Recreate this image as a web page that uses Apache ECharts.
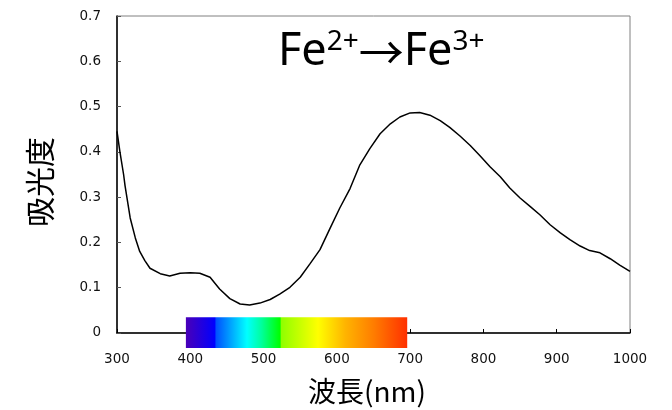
<!DOCTYPE html>
<html>
<head>
<meta charset="utf-8">
<script src="https://cdn.jsdelivr.net/npm/echarts@6/dist/echarts.min.js"></script>
<style>
html,body{margin:0;padding:0;background:#fff;}
#chart{width:672px;height:410px;}
</style>
</head>
<body>
<div id="chart"></div>
<script>
// Wavelength (nm) and absorbance
var wavelengths = [300, 304, 309, 311, 318, 325, 331, 338, 345, 359, 372, 386, 400, 413, 427, 440, 454, 468, 481, 495, 509, 522, 536, 550, 563, 577, 591, 604, 618, 631, 645, 659, 673, 686, 700, 713, 727, 741, 754, 768, 782, 795, 809, 823, 836, 850, 864, 877, 891, 905, 918, 932, 945, 959, 973, 986, 1000];
var absorbance = [0.445, 0.40, 0.35, 0.325, 0.254, 0.21, 0.18, 0.16, 0.143, 0.131, 0.126, 0.132, 0.133, 0.132, 0.123, 0.097, 0.076, 0.064, 0.062, 0.066, 0.074, 0.086, 0.101, 0.123, 0.152, 0.184, 0.232, 0.276, 0.319, 0.37, 0.407, 0.44, 0.462, 0.477, 0.486, 0.487, 0.481, 0.469, 0.454, 0.435, 0.414, 0.392, 0.367, 0.345, 0.32, 0.298, 0.279, 0.261, 0.239, 0.221, 0.206, 0.192, 0.182, 0.177, 0.164, 0.15, 0.136];
// Visible spectrum band: wavelength span and absorbance span it covers
var spectrumWavelengths = [394, 696];
var spectrumAbsorbance = [-0.033, 0.035];
var yTicks = [0, 0.1, 0.2, 0.3, 0.4, 0.5, 0.6, 0.7];
var xTicks = [300, 400, 500, 600, 700, 800, 900, 1000];

var lineData = wavelengths.map(function (w, i) { return [w, absorbance[i]]; });

var chart = echarts.init(document.getElementById('chart'));
chart.setOption({
  animation: false,
  backgroundColor: '#fff',
  title: {
    text: '{a|Fe}{b|2+}{c|→}{a|Fe}{b|3+}',
    left: 273,
    top: 20,
    textStyle: {
      fontWeight: 'normal',
      rich: {
        a: { fontFamily: 'Noto Sans', fontSize: 45, fontWeight: 'normal', color: '#000', lineHeight: 50, verticalAlign: 'bottom' },
        b: { fontFamily: 'Noto Sans', fontSize: 28, fontWeight: 'normal', color: '#000', lineHeight: 50, verticalAlign: 'top', padding: [3, 0, 0, 0] },
        c: { fontFamily: 'Noto Sans CJK JP', fontSize: 45, fontWeight: 'normal', color: '#000', lineHeight: 50, verticalAlign: 'bottom' }
      }
    }
  },
  grid: {
    left: 117, right: 42, top: 16, bottom: 74,
    show: true, borderColor: '#808080', borderWidth: 1, backgroundColor: 'transparent'
  },
  xAxis: {
    type: 'value',
    min: xTicks[0], max: xTicks[xTicks.length - 1], interval: 100,
    name: '波長(nm)',
    nameLocation: 'middle',
    nameGap: 44,
    nameTextStyle: { fontFamily: 'Noto Sans CJK JP', fontSize: 28, color: '#000', padding: [0, 13, 0, 0] },
    axisLine: { show: true, onZero: false, lineStyle: { color: '#000', width: 1.5 } },
    axisTick: { show: true, inside: true, length: 4, lineStyle: { color: '#000' } },
    axisLabel: {
      margin: 20, fontFamily: 'DejaVu Sans', fontSize: 13.5, color: '#111',
      formatter: function (v) { return String(v); }
    },
    splitLine: { show: false }
  },
  yAxis: {
    type: 'value',
    min: yTicks[0], max: yTicks[yTicks.length - 1], interval: 0.1,
    name: '吸光度',
    nameLocation: 'middle',
    nameRotate: 90,
    nameGap: 62,
    nameTextStyle: { fontFamily: 'Noto Sans CJK JP', fontSize: 30, color: '#000', padding: [0, 15, 0, 0] },
    axisLine: { show: true, lineStyle: { color: '#000', width: 1.5 } },
    axisTick: { show: true, inside: true, length: 4, lineStyle: { color: '#555' } },
    axisLabel: {
      margin: 16, fontFamily: 'DejaVu Sans', fontSize: 13.5, color: '#111',
      formatter: function (v) { return v === 0 ? '0' : v.toFixed(1); }
    },
    splitLine: { show: false }
  },
  series: [
    {
      type: 'custom',
      clip: false,
      z: 3,
      data: [[spectrumWavelengths[0], spectrumWavelengths[1], spectrumAbsorbance[0], spectrumAbsorbance[1]]],
      renderItem: function (params, api) {
        var p1 = api.coord([api.value(0), api.value(3)]);
        var p2 = api.coord([api.value(1), api.value(2)]);
        return {
          type: 'rect',
          shape: { x: p1[0], y: p1[1], width: p2[0] - p1[0], height: p2[1] - p1[1] },
          style: {
            fill: new echarts.graphic.LinearGradient(0, 0, 1, 0, [
              { offset: 0, color: '#4a00b8' },
              { offset: 0.131, color: '#0000ff' },
              { offset: 0.136, color: '#0050ff' },
              { offset: 0.276, color: '#00ffff' },
              { offset: 0.34, color: '#00ffa0' },
              { offset: 0.425, color: '#00ff00' },
              { offset: 0.432, color: '#90ff00' },
              { offset: 0.597, color: '#ffff00' },
              { offset: 0.72, color: '#ffb400' },
              { offset: 0.85, color: '#ff7c00' },
              { offset: 1, color: '#ff3000' }
            ])
          }
        };
      }
    },
    {
      type: 'line',
      data: lineData,
      showSymbol: false,
      symbol: 'none',
      z: 4,
      lineStyle: { color: '#000', width: 1.5 }
    }
  ]
});
</script>
</body>
</html>
